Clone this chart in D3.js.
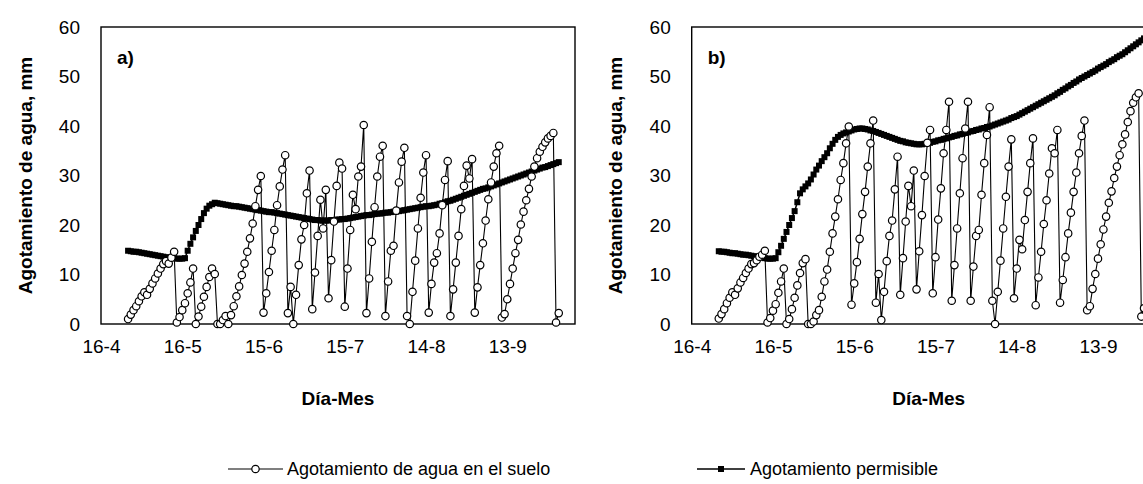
<!DOCTYPE html>
<html>
<head>
<meta charset="utf-8">
<script src="https://cdn.jsdelivr.net/npm/d3@7"></script>
<style>
  body { margin: 0; background: #fff; }
  svg { display: block; }
  text { font-family: "Liberation Sans", Arial, Helvetica, sans-serif; fill: #000; }
</style>
</head>
<body>
<svg id="chart" width="1143" height="484"></svg>
<script>
// Day numbers counted from 16 April; ticks every 30 days
const tickDays = [0, 30, 60, 90, 120, 150];
const tickLabels = ["16-4", "16-5", "15-6", "15-7", "14-8", "13-9"];
const yTicks = [0, 10, 20, 30, 40, 50, 60];
const firstDay = 10; // first recorded day of both series

// a) soil water depletion (mm), one value per day from firstDay
const soilA = [
  1.0, 1.9, 2.8, 3.6, 4.6, 5.6, 6.4, 5.9, 7.1, 8.2,
  9.2, 10.2, 11.2, 12.1, 12.7, 12.2, 13.4, 14.6, 0.3, 1.4,
  2.8, 4.2, 6.2, 8.4, 11.2, 0.0, 1.5, 3.5, 5.5, 7.5,
  9.5, 11.2, 10.1, 0.0, 0.0, 0.8, 1.6, 0.0, 1.8, 3.6,
  5.6, 7.6, 9.9, 12.2, 14.6, 17.3, 20.3, 23.8, 27.1, 29.9,
  2.3, 6.2, 10.5, 14.8, 19.0, 24.0, 27.8, 31.2, 34.1, 2.2,
  7.5, 0.0, 5.9, 11.9, 17.1, 20.0, 26.4, 31.0, 3.0, 10.4,
  17.8, 25.1, 19.3, 27.1, 5.2, 12.9, 20.7, 27.9, 32.6, 31.4,
  3.5, 11.2, 19.0, 26.1, 23.2, 29.8, 31.8, 40.2, 2.2, 9.2,
  16.6, 23.6, 29.8, 33.8, 36.0, 1.6, 8.6, 14.8, 15.8, 22.9,
  28.6, 32.8, 35.6, 1.6, 0.0, 6.5, 12.8, 19.3, 25.5, 30.6,
  34.1, 2.3, 8.1, 12.4, 14.3, 18.3, 24.0, 29.1, 32.9, 1.6,
  7.0, 12.4, 17.8, 23.2, 27.9, 32.0, 29.4, 33.3, 2.3, 7.4,
  11.9, 16.3, 20.9, 25.2, 28.6, 31.8, 34.5, 36.0, 1.3, 2.0,
  5.0, 8.1, 11.2, 14.3, 17.0, 20.1, 22.7, 25.0, 27.3, 29.8,
  31.8, 33.5, 34.8, 35.8, 36.7, 37.5, 38.0, 38.6, 0.3, 2.2
];

// a) allowable depletion (mm)
const allowA = [
  14.8, 14.7, 14.6, 14.6, 14.5, 14.4, 14.3, 14.2, 14.1, 14.0,
  13.9, 13.8, 13.7, 13.6, 13.5, 13.4, 13.3, 13.3, 13.2, 13.2,
  13.2, 13.3, 14.8, 16.2, 17.5, 18.8, 20.0, 21.2, 22.4, 23.3,
  23.9, 24.2, 24.5, 24.4, 24.3, 24.2, 24.1, 24.0, 23.9, 23.8,
  23.8, 23.7, 23.6, 23.5, 23.4, 23.3, 23.2, 23.1, 23.0, 22.9,
  22.8, 22.7, 22.6, 22.6, 22.5, 22.4, 22.3, 22.2, 22.1, 22.0,
  21.9, 21.8, 21.7, 21.6, 21.5, 21.4, 21.3, 21.2, 21.1, 21.0,
  21.0, 20.9, 20.9, 20.9, 20.9, 21.0, 21.0, 21.1, 21.1, 21.2,
  21.2, 21.3, 21.4, 21.5, 21.6, 21.7, 21.8, 21.9, 22.0, 22.0,
  22.1, 22.2, 22.3, 22.3, 22.4, 22.5, 22.5, 22.6, 22.7, 22.7,
  22.8, 22.9, 23.0, 23.1, 23.2, 23.3, 23.4, 23.5, 23.6, 23.7,
  23.8, 23.8, 23.9, 24.0, 24.1, 24.3, 24.4, 24.6, 24.8, 24.9,
  25.1, 25.3, 25.5, 25.7, 25.9, 26.1, 26.3, 26.5, 26.7, 26.9,
  27.1, 27.3, 27.4, 27.6, 27.8, 28.0, 28.2, 28.4, 28.6, 28.8,
  29.0, 29.2, 29.4, 29.6, 29.8, 30.0, 30.2, 30.4, 30.6, 30.8,
  31.0, 31.2, 31.4, 31.6, 31.7, 31.9, 32.1, 32.3, 32.5, 32.7
];

// b) soil water depletion (mm)
const soilB = [
  1.1, 2.0, 3.0, 4.2, 5.3, 6.4, 5.9, 7.2, 8.4, 9.3,
  10.3, 11.2, 12.1, 12.3, 12.9, 13.6, 14.0, 14.8, 0.3, 1.2,
  2.7, 4.0, 6.3, 8.6, 11.2, 0.0, 1.0, 3.0, 5.3, 7.8,
  10.3, 12.3, 13.1, 0.0, 0.0, 0.5, 1.8, 2.8, 5.5, 8.6,
  11.0, 14.6, 18.3, 21.7, 25.2, 29.1, 32.5, 36.5, 39.9, 3.9,
  8.2, 12.5, 17.2, 22.2, 26.7, 31.8, 36.5, 41.1, 4.3, 10.1,
  0.8, 6.5, 12.7, 17.8, 20.9, 27.2, 33.8, 5.9, 13.3, 20.7,
  27.9, 23.8, 31.0, 7.0, 14.7, 22.0, 29.9, 36.6, 39.2, 6.2,
  13.5, 21.1, 27.4, 34.5, 39.2, 44.9, 4.7, 11.9, 19.3, 26.4,
  33.5, 39.5, 44.9, 4.7, 11.6, 17.8, 19.0, 26.1, 32.5, 38.2,
  43.8, 4.7, 0.0, 6.5, 12.8, 19.3, 25.7, 31.8, 37.3, 5.2,
  11.2, 17.0, 15.1, 21.0, 26.7, 32.5, 37.5, 3.8, 9.4, 14.6,
  20.2, 25.0, 30.4, 35.5, 34.5, 39.2, 4.3, 8.9, 13.5, 18.3,
  22.5, 26.7, 30.6, 34.5, 38.0, 41.1, 2.8, 3.6, 7.1, 10.1,
  13.2, 16.1, 19.1, 21.7, 24.5, 26.8, 29.5, 31.8, 34.1, 36.3,
  38.3, 40.8, 43.0, 44.7, 45.8, 46.6, 1.5, 3.2
];

// b) allowable depletion (mm)
const allowB = [
  14.7, 14.6, 14.6, 14.5, 14.4, 14.3, 14.3, 14.2, 14.1, 14.0,
  14.0, 13.9, 13.8, 13.7, 13.6, 13.5, 13.4, 13.3, 13.2, 13.2,
  13.2, 13.3, 14.5, 15.8, 17.2, 18.6, 20.0, 21.4, 22.8, 24.6,
  26.4, 27.2, 27.8, 28.4, 29.2, 30.2, 31.2, 32.0, 32.9, 33.7,
  34.5, 35.5, 36.4, 37.2, 37.8, 38.2, 38.5, 38.7, 38.9, 39.1,
  39.3, 39.4, 39.5, 39.5, 39.4, 39.3, 39.1, 39.0, 38.8, 38.6,
  38.4, 38.2, 38.0, 37.8, 37.6, 37.4, 37.2, 37.0, 36.9, 36.7,
  36.6, 36.5, 36.4, 36.3, 36.3, 36.3, 36.4, 36.5, 36.6, 36.8,
  36.9, 37.1, 37.2, 37.4, 37.5, 37.7, 37.8, 38.0, 38.1, 38.3,
  38.4, 38.6, 38.7, 38.9, 39.0, 39.2, 39.3, 39.5, 39.6, 39.8,
  39.9, 40.1, 40.3, 40.5, 40.7, 40.9, 41.1, 41.3, 41.6, 41.8,
  42.0, 42.3, 42.6, 42.9, 43.2, 43.5, 43.8, 44.1, 44.4, 44.7,
  45.0, 45.3, 45.6, 45.9, 46.2, 46.6, 46.9, 47.3, 47.6, 48.0,
  48.3, 48.7, 49.0, 49.4, 49.7, 50.0, 50.3, 50.6, 50.9, 51.2,
  51.6, 51.9, 52.2, 52.5, 52.9, 53.2, 53.5, 53.9, 54.2, 54.5,
  54.9, 55.3, 55.7, 56.1, 56.5, 56.9, 57.3, 57.7, 58.1, 58.5
];

const seriesNames = ["Agotamiento de agua en el suelo", "Agotamiento permisible"];
const yTitle = "Agotamiento de agua, mm";
const xTitle = "Día-Mes";

const panels = [
  { tag: "a)", left: 101, soil: soilA, allow: allowA },
  { tag: "b)", left: 691.7, soil: soilB, allow: allowB }
];

const svg = d3.select("#chart");
const plotTop = 27, plotBottom = 324, plotWidth = 474;
const y = d3.scaleLinear().domain([0, 60]).range([plotBottom, plotTop]);
const SQ = 6; // square marker side

const toPoints = arr => arr.map((v, i) => ({ day: firstDay + i, v }));

panels.forEach(p => {
  const x = d3.scaleLinear().domain([0, 175]).range([p.left, p.left + plotWidth]);
  const g = svg.append("g");

  // plot frame
  g.append("rect")
    .attr("x", p.left).attr("y", plotTop)
    .attr("width", plotWidth).attr("height", plotBottom - plotTop)
    .attr("fill", "none").attr("stroke", "#000").attr("stroke-width", 1.4);

  // y axis labels
  const yAxis = d3.axisLeft(y).tickValues(yTicks).tickSize(0).tickPadding(21);
  const ya = g.append("g").attr("transform", `translate(${p.left},0)`).call(yAxis);
  ya.select(".domain").remove();
  ya.selectAll("text").attr("font-size", 19).attr("font-family", null);

  // x axis labels
  const xAxis = d3.axisBottom(x).tickValues(tickDays)
    .tickFormat((d, i) => tickLabels[i]).tickSize(0).tickPadding(16);
  const xa = g.append("g").attr("transform", `translate(0,${plotBottom})`).call(xAxis);
  xa.select(".domain").remove();
  xa.selectAll("text").attr("font-size", 19).attr("font-family", null);

  // axis titles
  g.append("text")
    .attr("transform", `translate(${p.left - 76},${(plotTop + plotBottom) / 2}) rotate(-90)`)
    .attr("text-anchor", "middle").attr("dominant-baseline", "central")
    .attr("font-size", 19).attr("font-weight", "bold").text(yTitle);
  g.append("text")
    .attr("x", p.left + 237).attr("y", 405)
    .attr("text-anchor", "middle")
    .attr("font-size", 19).attr("font-weight", "bold").text(xTitle);

  // panel tag
  g.append("text")
    .attr("x", p.left + 16).attr("y", 64)
    .attr("font-size", 19).attr("font-weight", "bold").text(p.tag);

  // allowable depletion: line + small squares
  const allowPts = toPoints(p.allow);
  const line = d3.line().x(d => x(d.day)).y(d => y(d.v));
  g.append("path").datum(allowPts)
    .attr("d", line).attr("fill", "none").attr("stroke", "#000").attr("stroke-width", 1.5);
  g.selectAll("rect.sq").data(allowPts).join("rect").attr("class", "sq")
    .attr("x", d => x(d.day) - SQ / 2).attr("y", d => y(d.v) - SQ / 2)
    .attr("width", SQ).attr("height", SQ).attr("fill", "#000");

  // soil depletion: line + open circles
  const soilPts = toPoints(p.soil);
  g.append("path").datum(soilPts)
    .attr("d", line).attr("fill", "none").attr("stroke", "#000").attr("stroke-width", 1.1);
  g.selectAll("circle.pt").data(soilPts).join("circle").attr("class", "pt")
    .attr("cx", d => x(d.day)).attr("cy", d => y(d.v)).attr("r", 3.7)
    .attr("fill", "#fff").attr("stroke", "#000").attr("stroke-width", 1.2);
});

// legend
const legY = 469;
const leg = svg.append("g");
leg.append("line").attr("x1", 228).attr("x2", 283).attr("y1", legY).attr("y2", legY)
  .attr("stroke", "#000").attr("stroke-width", 1.1);
leg.append("circle").attr("cx", 255.5).attr("cy", legY).attr("r", 3.7)
  .attr("fill", "#fff").attr("stroke", "#000").attr("stroke-width", 1.2);
leg.append("text").attr("x", 287).attr("y", legY).attr("dominant-baseline", "central")
  .attr("font-size", 18).text(seriesNames[0]);
leg.append("line").attr("x1", 697).attr("x2", 745).attr("y1", legY).attr("y2", legY)
  .attr("stroke", "#000").attr("stroke-width", 1.5);
leg.append("rect").attr("x", 721 - SQ / 2).attr("y", legY - SQ / 2).attr("width", SQ).attr("height", SQ)
  .attr("fill", "#000");
leg.append("text").attr("x", 750).attr("y", legY).attr("dominant-baseline", "central")
  .attr("font-size", 18).text(seriesNames[1]);
</script>
</body>
</html>
